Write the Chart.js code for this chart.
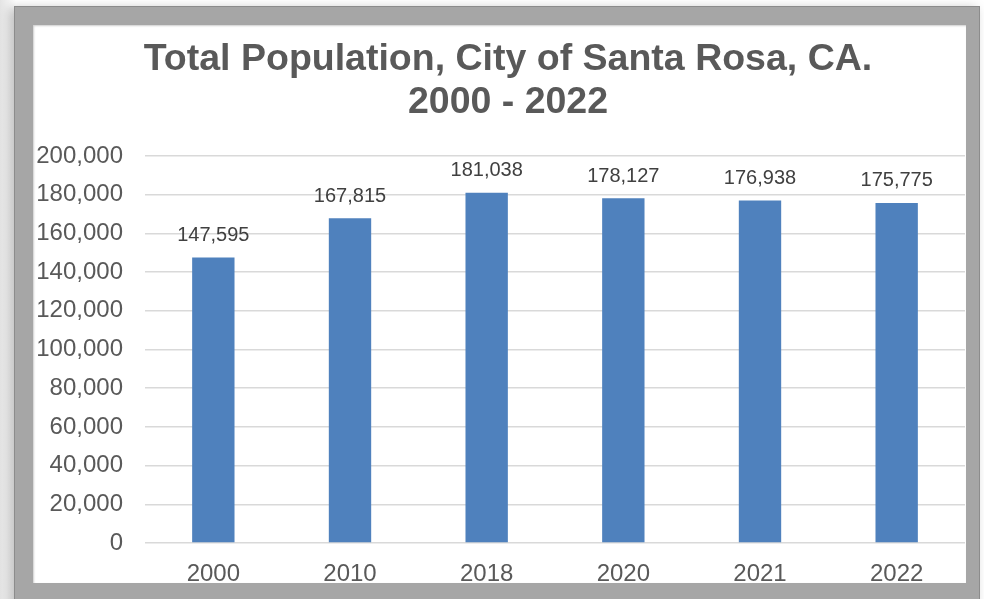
<!DOCTYPE html>
<html>
<head>
<meta charset="utf-8">
<script src="https://cdn.jsdelivr.net/npm/chart.js@4"></script>
<style>
  html, body { margin: 0; padding: 0; background: #ffffff; overflow: hidden; }
  body { width: 984px; height: 599px; position: relative;
         background: linear-gradient(to right, #e4e4e4 0px, #f4f4f4 10px, #ffffff 16px); }
  #frame { position: absolute; left: 14px; top: 6px; width: 964px; height: 620px;
           background: #a6a6a6; border: 1px solid #8c8c8c;
           box-shadow: -4px 2px 10px rgba(0,0,0,0.25); }
  #chartBox { position: absolute; left: 33px; top: 25px; width: 933px; height: 558px;
              background: #ffffff; box-shadow: inset 1px 1px 2px rgba(0,0,0,0.2); }
  #popChart { position: absolute; left: 0; top: 0; }
</style>
</head>
<body>
<div id="frame"></div>
<div id="chartBox"><canvas id="popChart" width="933" height="558"></canvas></div>
<script>
// Chart data
const years = ['2000', '2010', '2018', '2020', '2021', '2022'];
const population = [147595, 167815, 181038, 178127, 176938, 175775];
const yTicks = [0, 20000, 40000, 60000, 80000, 100000, 120000, 140000, 160000, 180000, 200000];
const titleLines = ['Total Population, City of Santa Rosa, CA.', '2000 - 2022'];

const textGray = '#595959';
const fontFamily = '"Liberation Sans", Arial, sans-serif';

// Two-line title, centred a little right of the canvas middle like the original
const chartTitle = {
    id: 'chartTitle',
    afterDraw(chart) {
        const ctx = chart.ctx;
        ctx.save();
        ctx.font = 'bold 37.5px ' + fontFamily;
        ctx.fillStyle = textGray;
        ctx.textAlign = 'center';
        ctx.textBaseline = 'alphabetic';
        titleLines.forEach((line, i) => {
            ctx.fillText(line, 475, 45 + i * 43);
        });
        ctx.restore();
    }
};

// Draw the value above each bar
const valueLabels = {
    id: 'valueLabels',
    afterDatasetsDraw(chart) {
        const ctx = chart.ctx;
        const meta = chart.getDatasetMeta(0);
        ctx.save();
        ctx.font = '20px ' + fontFamily;
        ctx.fillStyle = '#404040';
        ctx.textAlign = 'center';
        ctx.textBaseline = 'middle';
        meta.data.forEach((bar, i) => {
            ctx.fillText(population[i].toLocaleString('en-US'), bar.x, bar.y - 22);
        });
        ctx.restore();
    }
};

const ctx = document.getElementById('popChart').getContext('2d');

const popChart = new Chart(ctx, {
    type: 'bar',
    data: {
        labels: years,
        datasets: [
            {
                label: 'Population',
                data: population,
                backgroundColor: '#4f81bd',
                barPercentage: 0.31,
                categoryPercentage: 1.0
            }
        ]
    },
    options: {
        responsive: false,
        animation: false,
        layout: { padding: { left: 0, right: 1, top: 131, bottom: 0 } },
        scales: {
            x: {
                grid: { display: false },
                border: { display: false },
                ticks: {
                    color: textGray,
                    padding: 9,
                    font: { family: fontFamily, size: 24 }
                },
                afterFit: scale => { scale.height = 40; }
            },
            y: {
                min: 0,
                max: 200000,
                afterBuildTicks: scale => { scale.ticks = yTicks.map(v => ({ value: v })); },
                grid: { color: '#d9d9d9', lineWidth: 1.5, drawTicks: false },
                border: { display: false },
                ticks: {
                    color: textGray,
                    padding: 22,
                    font: { family: fontFamily, size: 24 },
                    callback: value => value.toLocaleString('en-US')
                },
                afterFit: scale => { scale.width = 112; }
            }
        },
        plugins: {
            legend: { display: false },
            tooltip: { enabled: false },
            title: { display: false }
        }
    },
    plugins: [valueLabels, chartTitle]
});
</script>
</body>
</html>
